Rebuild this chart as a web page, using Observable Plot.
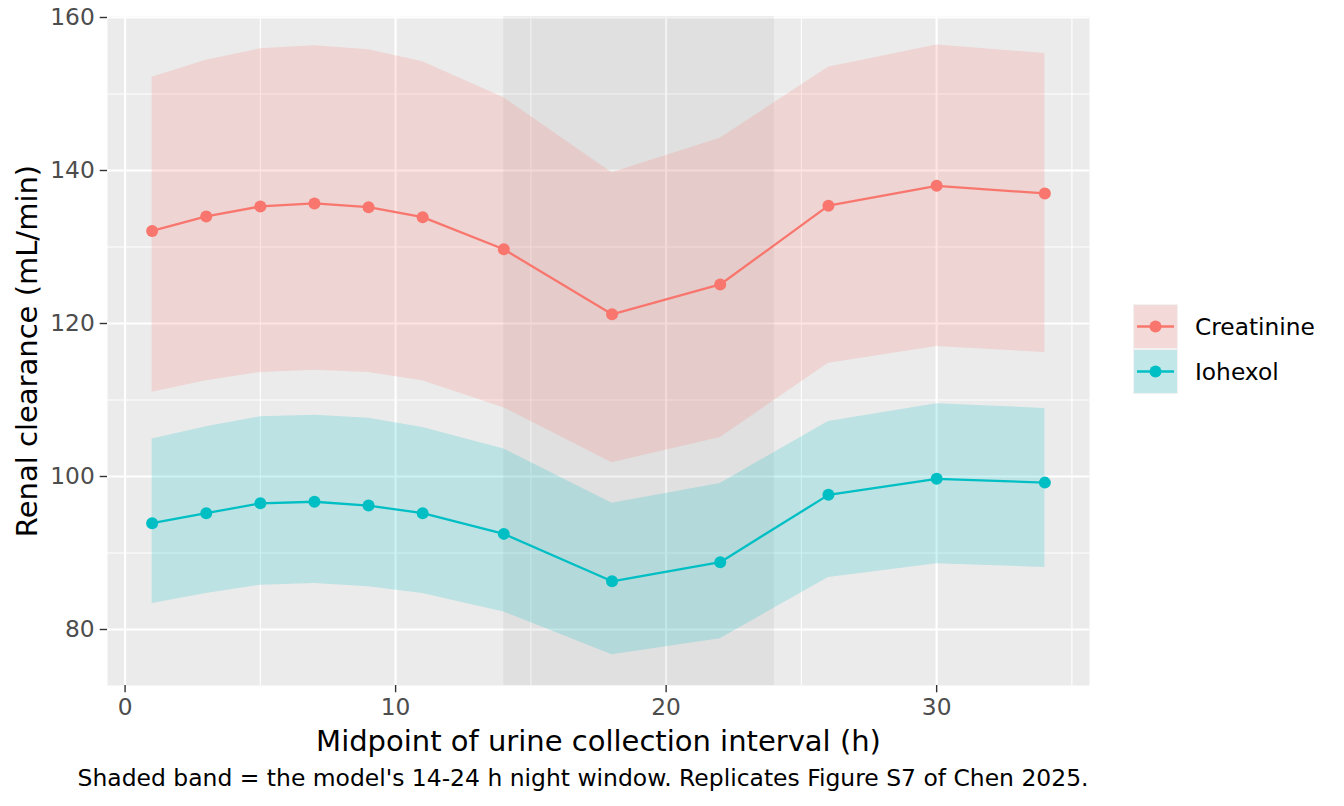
<!DOCTYPE html>
<html>
<head>
<meta charset="utf-8">
<script src="https://cdn.jsdelivr.net/npm/d3@7"></script>
<script src="https://cdn.jsdelivr.net/npm/@observablehq/plot@0.6"></script>
<style>
  html, body { margin: 0; padding: 0; background: white; }
  #chart { position: relative; width: 1344px; height: 806px; }
</style>
</head>
<body>
<div id="chart"></div>
<script>
// ---- data ----
const hours = [1, 3, 5, 7, 9, 11, 14, 18, 22, 26, 30, 34];
const creatinineMean = [132.1, 134.0, 135.3, 135.7, 135.2, 133.9, 129.7, 121.2, 125.1, 135.4, 138.0, 137.0];
const creatinineLower = [111.0, 112.5, 113.6, 113.9, 113.6, 112.5, 109.0, 101.8, 105.1, 114.8, 117.0, 116.2];
const creatinineUpper = [152.2, 154.4, 155.9, 156.3, 155.8, 154.2, 149.5, 139.7, 144.2, 153.5, 156.4, 155.3];
const iohexolMean = [93.9, 95.2, 96.5, 96.7, 96.2, 95.2, 92.5, 86.3, 88.8, 97.6, 99.7, 99.2];
const iohexolLower = [83.4, 84.7, 85.8, 86.0, 85.6, 84.7, 82.3, 76.7, 78.8, 86.8, 88.6, 88.1];
const iohexolUpper = [104.9, 106.5, 107.8, 108.0, 107.6, 106.4, 103.6, 96.5, 99.1, 107.2, 109.5, 108.9];
const seriesNames = ["Creatinine", "Iohexol"];
const seriesColors = ["#F8766D", "#00BFC4"];
const nightWindow = [{start: 14, end: 24}];
const xTicks = [0, 10, 20, 30];
const xMinor = [5, 15, 25, 35];
const yTicks = [80, 100, 120, 140, 160];
const yMinor = [90, 110, 130, 150];
const xLabel = "Midpoint of urine collection interval (h)";
const yLabel = "Renal clearance (mL/min)";
const captionText = "Shaded band = the model's 14-24 h night window. Replicates Figure S7 of Chen 2025.";

// ---- build table ----
const rows = [];
hours.forEach((h, i) => {
  rows.push({series: "Creatinine", x: h, mean: creatinineMean[i], lo: creatinineLower[i], hi: creatinineUpper[i]});
});
hours.forEach((h, i) => {
  rows.push({series: "Iohexol", x: h, mean: iohexolMean[i], lo: iohexolLower[i], hi: iohexolUpper[i]});
});

const font = "DejaVu Sans";

const plot = Plot.plot({
  width: 1344,
  height: 806,
  marginLeft: 107,
  marginRight: 255,
  marginTop: 16,
  marginBottom: 121,
  style: {fontFamily: font, background: "white", overflow: "visible"},
  x: {domain: [-0.65, 35.65]},
  y: {domain: [72.68, 160.13]},
  color: {domain: seriesNames, range: seriesColors},
  marks: [
    Plot.frame({fill: "#EBEBEB", stroke: null}),
    Plot.ruleX(xMinor, {stroke: "white", strokeWidth: 1.1}),
    Plot.ruleY(yMinor, {stroke: "white", strokeWidth: 1.1}),
    Plot.ruleX(xTicks, {stroke: "white", strokeWidth: 2.2}),
    Plot.ruleY(yTicks, {stroke: "white", strokeWidth: 2.2}),
    Plot.rect(nightWindow, {x1: "start", x2: "end", fill: "#808080", fillOpacity: 0.1}),
    Plot.areaY(rows, {x: "x", y1: "lo", y2: "hi", fill: "series", fillOpacity: 0.2, curve: "linear"}),
    Plot.line(rows, {x: "x", y: "mean", stroke: "series", strokeWidth: 2.3, z: "series"}),
    Plot.dot(rows, {x: "x", y: "mean", fill: "series", r: 6, stroke: null}),
    Plot.axisX({ticks: xTicks, tickSize: 7.3, tickPadding: 6, fontSize: 23.3, fill: "#4D4D4D", stroke: "#333333", strokeWidth: 1.4, label: null}),
    Plot.axisY({ticks: yTicks, tickSize: 7.3, tickPadding: 5.5, fontSize: 23.3, fill: "#4D4D4D", stroke: "#333333", strokeWidth: 1.4, label: null}),
    Plot.text([xLabel], {text: d => d, frameAnchor: "bottom", textAnchor: "middle", lineAnchor: "middle", dy: 56, fontSize: 29, fill: "black"}),
    Plot.text([yLabel], {text: d => d, frameAnchor: "left", textAnchor: "middle", lineAnchor: "middle", rotate: -90, dx: -80, fontSize: 29, fill: "black"}),
    Plot.text([captionText], {text: d => d, frameAnchor: "bottom-right", textAnchor: "end", lineAnchor: "middle", dx: -1, dy: 93, fontSize: 23.45, fill: "black"})
  ]
});

document.getElementById("chart").appendChild(plot);

// ---- legend (drawn into the same svg) ----
const svg = d3.select(plot.tagName.toLowerCase() === "svg" ? plot : plot.querySelector("svg"));
const lg = svg.append("g").attr("font-family", font).attr("text-anchor", "start");
const keyX = 1133, keyY0 = 304, keySize = 45;
seriesNames.forEach((name, i) => {
  const y = keyY0 + i * keySize;
  const g = lg.append("g").attr("transform", `translate(${keyX},${y})`);
  g.append("rect").attr("width", keySize).attr("height", keySize).attr("fill", "#F2F2F2");
  g.append("rect").attr("x", 1).attr("y", 1).attr("width", keySize - 2).attr("height", keySize - 2)
    .attr("fill", seriesColors[i]).attr("fill-opacity", 0.2);
  g.append("line").attr("x1", 4).attr("x2", keySize - 4).attr("y1", keySize / 2).attr("y2", keySize / 2)
    .attr("stroke", seriesColors[i]).attr("stroke-width", 2.3);
  g.append("circle").attr("cx", keySize / 2).attr("cy", keySize / 2).attr("r", 6).attr("fill", seriesColors[i]);
  lg.append("text").attr("x", 1195).attr("y", y + keySize / 2).attr("dy", "0.35em")
    .attr("text-anchor", "start").attr("font-size", 23.3).attr("fill", "black").text(name);
});
</script>
</body>
</html>
